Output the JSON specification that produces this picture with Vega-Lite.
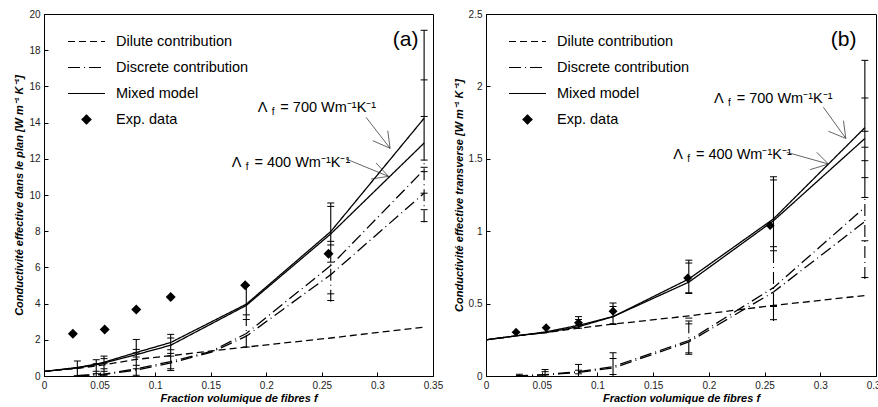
{
  "$schema": "https://vega.github.io/schema/vega-lite/v6.json",
  "background": "white",
  "padding": {"left": 13, "top": 8, "right": 0, "bottom": 0},
  "spacing": 8,
  "datasets": {
    "curvesA": [
      {"curve": "m700", "type": "Mixed model", "f": 0, "k": 0.25},
      {"curve": "m700", "type": "Mixed model", "f": 0.030, "k": 0.47},
      {"curve": "m700", "type": "Mixed model", "f": 0.047, "k": 0.66},
      {"curve": "m700", "type": "Mixed model", "f": 0.054, "k": 0.76},
      {"curve": "m700", "type": "Mixed model", "f": 0.083, "k": 1.3},
      {"curve": "m700", "type": "Mixed model", "f": 0.114, "k": 1.85},
      {"curve": "m700", "type": "Mixed model", "f": 0.182, "k": 3.97},
      {"curve": "m700", "type": "Mixed model", "f": 0.258, "k": 7.98},
      {"curve": "m700", "type": "Mixed model", "f": 0.342, "k": 14.24},
      {"curve": "m400", "type": "Mixed model", "f": 0, "k": 0.25},
      {"curve": "m400", "type": "Mixed model", "f": 0.030, "k": 0.45},
      {"curve": "m400", "type": "Mixed model", "f": 0.047, "k": 0.62},
      {"curve": "m400", "type": "Mixed model", "f": 0.054, "k": 0.72},
      {"curve": "m400", "type": "Mixed model", "f": 0.083, "k": 1.18},
      {"curve": "m400", "type": "Mixed model", "f": 0.114, "k": 1.7},
      {"curve": "m400", "type": "Mixed model", "f": 0.182, "k": 3.9},
      {"curve": "m400", "type": "Mixed model", "f": 0.258, "k": 7.85},
      {"curve": "m400", "type": "Mixed model", "f": 0.342, "k": 12.87},
      {"curve": "dil", "type": "Dilute contribution", "f": 0, "k": 0.25},
      {"curve": "dil", "type": "Dilute contribution", "f": 0.030, "k": 0.42},
      {"curve": "dil", "type": "Dilute contribution", "f": 0.054, "k": 0.62},
      {"curve": "dil", "type": "Dilute contribution", "f": 0.083, "k": 0.92},
      {"curve": "dil", "type": "Dilute contribution", "f": 0.114, "k": 1.12},
      {"curve": "dil", "type": "Dilute contribution", "f": 0.182, "k": 1.6},
      {"curve": "dil", "type": "Dilute contribution", "f": 0.258, "k": 2.1},
      {"curve": "dil", "type": "Dilute contribution", "f": 0.342, "k": 2.7},
      {"curve": "d700", "type": "Discrete contribution", "f": 0.030, "k": 0.02},
      {"curve": "d700", "type": "Discrete contribution", "f": 0.054, "k": 0.1},
      {"curve": "d700", "type": "Discrete contribution", "f": 0.083, "k": 0.4},
      {"curve": "d700", "type": "Discrete contribution", "f": 0.114, "k": 0.8},
      {"curve": "d700", "type": "Discrete contribution", "f": 0.15, "k": 1.35},
      {"curve": "d700", "type": "Discrete contribution", "f": 0.182, "k": 2.35},
      {"curve": "d700", "type": "Discrete contribution", "f": 0.258, "k": 6.1},
      {"curve": "d700", "type": "Discrete contribution", "f": 0.342, "k": 11.4},
      {"curve": "d400", "type": "Discrete contribution", "f": 0.030, "k": 0.02},
      {"curve": "d400", "type": "Discrete contribution", "f": 0.054, "k": 0.08},
      {"curve": "d400", "type": "Discrete contribution", "f": 0.083, "k": 0.33},
      {"curve": "d400", "type": "Discrete contribution", "f": 0.114, "k": 0.72},
      {"curve": "d400", "type": "Discrete contribution", "f": 0.15, "k": 1.3},
      {"curve": "d400", "type": "Discrete contribution", "f": 0.182, "k": 2.2},
      {"curve": "d400", "type": "Discrete contribution", "f": 0.258, "k": 5.6},
      {"curve": "d400", "type": "Discrete contribution", "f": 0.342, "k": 10.1}
    ],
    "expA": [
      {"f": 0.026, "k": 2.33}, {"f": 0.0546, "k": 2.57}, {"f": 0.083, "k": 3.68},
      {"f": 0.114, "k": 4.36}, {"f": 0.181, "k": 5.02}, {"f": 0.256, "k": 6.75}
    ],
    "barsA": [
      {"f": 0.030, "lo": 0, "hi": 0.83, "type": "Mixed model"},
      {"f": 0.047, "lo": 0, "hi": 0.9, "type": "Mixed model"},
      {"f": 0.054, "lo": 0, "hi": 1.1, "type": "Mixed model"},
      {"f": 0.083, "lo": 0, "hi": 2.02, "type": "Mixed model"},
      {"f": 0.114, "lo": 0.3, "hi": 2.3, "type": "Mixed model"},
      {"f": 0.182, "lo": 3.1, "hi": 5.0, "type": "Mixed model"},
      {"f": 0.182, "lo": 1.6, "hi": 3.1, "type": "Discrete contribution"},
      {"f": 0.258, "lo": 6.3, "hi": 9.56, "type": "Mixed model"},
      {"f": 0.258, "lo": 4.1, "hi": 6.3, "type": "Discrete contribution"},
      {"f": 0.342, "lo": 11.9, "hi": 19.1, "type": "Mixed model"},
      {"f": 0.342, "lo": 8.5, "hi": 11.9, "type": "Discrete contribution"}
    ],
    "capsA": [
      {"f": 0.030, "k": 0.83}, {"f": 0.030, "k": 0.44}, {"f": 0.030, "k": 0.02},
      {"f": 0.047, "k": 0.9}, {"f": 0.047, "k": 0.68}, {"f": 0.047, "k": 0.26}, {"f": 0.047, "k": 0.13},
      {"f": 0.054, "k": 1.1}, {"f": 0.054, "k": 0.96}, {"f": 0.054, "k": 0.68}, {"f": 0.054, "k": 0.4}, {"f": 0.054, "k": 0.26}, {"f": 0.054, "k": 0.04},
      {"f": 0.083, "k": 2.02}, {"f": 0.083, "k": 1.47}, {"f": 0.083, "k": 1.27}, {"f": 0.083, "k": 1.05}, {"f": 0.083, "k": 0.59}, {"f": 0.083, "k": 0.4}, {"f": 0.083, "k": 0.04},
      {"f": 0.114, "k": 2.3}, {"f": 0.114, "k": 2.1}, {"f": 0.114, "k": 1.45}, {"f": 0.114, "k": 1.25}, {"f": 0.114, "k": 1.1}, {"f": 0.114, "k": 0.4}, {"f": 0.114, "k": 0.3},
      {"f": 0.182, "k": 5.0}, {"f": 0.182, "k": 3.38}, {"f": 0.182, "k": 3.12}, {"f": 0.182, "k": 1.6},
      {"f": 0.258, "k": 9.56}, {"f": 0.258, "k": 9.37}, {"f": 0.258, "k": 7.44}, {"f": 0.258, "k": 7.24}, {"f": 0.258, "k": 6.29}, {"f": 0.258, "k": 4.54}, {"f": 0.258, "k": 4.17},
      {"f": 0.342, "k": 19.1}, {"f": 0.342, "k": 16.36}, {"f": 0.342, "k": 14.34}, {"f": 0.342, "k": 11.93}, {"f": 0.342, "k": 11.53}, {"f": 0.342, "k": 11.29}, {"f": 0.342, "k": 10.1}, {"f": 0.342, "k": 9.19}, {"f": 0.342, "k": 8.53}
    ],
    "notesA": [
      {"f": 0.1923, "k": 14.57, "txt": "= 700 Wm⁻¹K⁻¹"},
      {"f": 0.169, "k": 11.56, "txt": "= 400 Wm⁻¹K⁻¹"}
    ],
    "arrowsA": [
      {"f": 0.2898, "k": 14.29, "f2": 0.3114, "k2": 12.58},
      {"f": 0.2958, "k": 13.0, "f2": 0.3114, "k2": 12.58},
      {"f": 0.3093, "k": 13.55, "f2": 0.3114, "k2": 12.58},
      {"f": 0.2718, "k": 11.99, "f2": 0.3099, "k2": 11.03},
      {"f": 0.2943, "k": 10.88, "f2": 0.3099, "k2": 11.03},
      {"f": 0.2988, "k": 11.77, "f2": 0.3099, "k2": 11.03}
    ],
    "curvesB": [
      {"curve": "m700", "type": "Mixed model", "f": 0, "k": 0.25},
      {"curve": "m700", "type": "Mixed model", "f": 0.030, "k": 0.28},
      {"curve": "m700", "type": "Mixed model", "f": 0.054, "k": 0.305},
      {"curve": "m700", "type": "Mixed model", "f": 0.083, "k": 0.35},
      {"curve": "m700", "type": "Mixed model", "f": 0.114, "k": 0.41},
      {"curve": "m700", "type": "Mixed model", "f": 0.182, "k": 0.67},
      {"curve": "m700", "type": "Mixed model", "f": 0.258, "k": 1.085},
      {"curve": "m700", "type": "Mixed model", "f": 0.34, "k": 1.715},
      {"curve": "m400", "type": "Mixed model", "f": 0, "k": 0.25},
      {"curve": "m400", "type": "Mixed model", "f": 0.030, "k": 0.28},
      {"curve": "m400", "type": "Mixed model", "f": 0.054, "k": 0.30},
      {"curve": "m400", "type": "Mixed model", "f": 0.083, "k": 0.34},
      {"curve": "m400", "type": "Mixed model", "f": 0.114, "k": 0.41},
      {"curve": "m400", "type": "Mixed model", "f": 0.182, "k": 0.648},
      {"curve": "m400", "type": "Mixed model", "f": 0.258, "k": 1.072},
      {"curve": "m400", "type": "Mixed model", "f": 0.34, "k": 1.64},
      {"curve": "dil", "type": "Dilute contribution", "f": 0, "k": 0.25},
      {"curve": "dil", "type": "Dilute contribution", "f": 0.030, "k": 0.28},
      {"curve": "dil", "type": "Dilute contribution", "f": 0.054, "k": 0.30},
      {"curve": "dil", "type": "Dilute contribution", "f": 0.083, "k": 0.33},
      {"curve": "dil", "type": "Dilute contribution", "f": 0.114, "k": 0.358},
      {"curve": "dil", "type": "Dilute contribution", "f": 0.182, "k": 0.415},
      {"curve": "dil", "type": "Dilute contribution", "f": 0.258, "k": 0.487},
      {"curve": "dil", "type": "Dilute contribution", "f": 0.34, "k": 0.556},
      {"curve": "d700", "type": "Discrete contribution", "f": 0.027, "k": 0.0},
      {"curve": "d700", "type": "Discrete contribution", "f": 0.054, "k": 0.01},
      {"curve": "d700", "type": "Discrete contribution", "f": 0.083, "k": 0.03},
      {"curve": "d700", "type": "Discrete contribution", "f": 0.114, "k": 0.065},
      {"curve": "d700", "type": "Discrete contribution", "f": 0.15, "k": 0.16},
      {"curve": "d700", "type": "Discrete contribution", "f": 0.182, "k": 0.245},
      {"curve": "d700", "type": "Discrete contribution", "f": 0.258, "k": 0.61},
      {"curve": "d700", "type": "Discrete contribution", "f": 0.34, "k": 1.165},
      {"curve": "d400", "type": "Discrete contribution", "f": 0.027, "k": 0.0},
      {"curve": "d400", "type": "Discrete contribution", "f": 0.054, "k": 0.008},
      {"curve": "d400", "type": "Discrete contribution", "f": 0.083, "k": 0.025},
      {"curve": "d400", "type": "Discrete contribution", "f": 0.114, "k": 0.055},
      {"curve": "d400", "type": "Discrete contribution", "f": 0.15, "k": 0.15},
      {"curve": "d400", "type": "Discrete contribution", "f": 0.182, "k": 0.235},
      {"curve": "d400", "type": "Discrete contribution", "f": 0.258, "k": 0.58},
      {"curve": "d400", "type": "Discrete contribution", "f": 0.34, "k": 1.067}
    ],
    "expB": [
      {"f": 0.027, "k": 0.303}, {"f": 0.054, "k": 0.333}, {"f": 0.083, "k": 0.368},
      {"f": 0.114, "k": 0.447}, {"f": 0.181, "k": 0.677}, {"f": 0.255, "k": 1.04}
    ],
    "barsB": [
      {"f": 0.030, "lo": 0, "hi": 0.012, "type": "Mixed model"},
      {"f": 0.053, "lo": 0, "hi": 0.045, "type": "Mixed model"},
      {"f": 0.083, "lo": 0, "hi": 0.08, "type": "Mixed model"},
      {"f": 0.083, "lo": 0.33, "hi": 0.41, "type": "Mixed model"},
      {"f": 0.114, "lo": 0, "hi": 0.16, "type": "Mixed model"},
      {"f": 0.114, "lo": 0.355, "hi": 0.505, "type": "Mixed model"},
      {"f": 0.182, "lo": 0.15, "hi": 0.40, "type": "Discrete contribution"},
      {"f": 0.182, "lo": 0.57, "hi": 0.80, "type": "Mixed model"},
      {"f": 0.258, "lo": 0.865, "hi": 1.376, "type": "Mixed model"},
      {"f": 0.258, "lo": 0.49, "hi": 0.865, "type": "Discrete contribution"},
      {"f": 0.258, "lo": 0.38, "hi": 0.49, "type": "Mixed model"},
      {"f": 0.34, "lo": 1.23, "hi": 2.18, "type": "Mixed model"},
      {"f": 0.34, "lo": 0.67, "hi": 1.23, "type": "Discrete contribution"}
    ],
    "capsB": [
      {"f": 0.030, "k": 0.012}, {"f": 0.030, "k": 0.0},
      {"f": 0.053, "k": 0.045}, {"f": 0.053, "k": 0.03}, {"f": 0.053, "k": 0.01},
      {"f": 0.083, "k": 0.08}, {"f": 0.083, "k": 0.04}, {"f": 0.083, "k": 0.015}, {"f": 0.083, "k": 0.41}, {"f": 0.083, "k": 0.39}, {"f": 0.083, "k": 0.35}, {"f": 0.083, "k": 0.33},
      {"f": 0.114, "k": 0.16}, {"f": 0.114, "k": 0.12}, {"f": 0.114, "k": 0.01}, {"f": 0.114, "k": 0.505}, {"f": 0.114, "k": 0.48}, {"f": 0.114, "k": 0.36}, {"f": 0.114, "k": 0.355},
      {"f": 0.182, "k": 0.40}, {"f": 0.182, "k": 0.38}, {"f": 0.182, "k": 0.36}, {"f": 0.182, "k": 0.16}, {"f": 0.182, "k": 0.15}, {"f": 0.182, "k": 0.80}, {"f": 0.182, "k": 0.78}, {"f": 0.182, "k": 0.575}, {"f": 0.182, "k": 0.57},
      {"f": 0.258, "k": 1.376}, {"f": 0.258, "k": 1.354}, {"f": 0.258, "k": 0.893}, {"f": 0.258, "k": 0.865}, {"f": 0.258, "k": 0.486}, {"f": 0.258, "k": 0.48}, {"f": 0.258, "k": 0.389},
      {"f": 0.34, "k": 2.18}, {"f": 0.34, "k": 1.92}, {"f": 0.34, "k": 1.69}, {"f": 0.34, "k": 1.58}, {"f": 0.34, "k": 1.487}, {"f": 0.34, "k": 1.37}, {"f": 0.34, "k": 1.233}, {"f": 0.34, "k": 0.934}, {"f": 0.34, "k": 0.68}
    ],
    "notesB": [
      {"f": 0.2047, "k": 1.885, "txt": "= 700 Wm⁻¹K⁻¹"},
      {"f": 0.1681, "k": 1.499, "txt": "= 400 Wm⁻¹K⁻¹"}
    ],
    "arrowsB": [
      {"f": 0.3028, "k": 1.856, "f2": 0.3229, "k2": 1.641},
      {"f": 0.3073, "k": 1.690, "f2": 0.3229, "k2": 1.641},
      {"f": 0.3208, "k": 1.763, "f2": 0.3229, "k2": 1.641},
      {"f": 0.2699, "k": 1.545, "f2": 0.3073, "k2": 1.464},
      {"f": 0.2908, "k": 1.425, "f2": 0.3073, "k2": 1.464},
      {"f": 0.2968, "k": 1.545, "f2": 0.3073, "k2": 1.464}
    ]
  },
  "hconcat": [
    {
      "width": 389,
      "height": 362,
      "layer": [
        {
          "data": {"name": "curvesA"},
          "mark": {"type": "line", "color": "black", "strokeWidth": 1.3},
          "encoding": {
            "x": {"field": "f", "type": "quantitative", "scale": {"domain": [0, 0.35], "nice": false},
                  "axis": {"title": "Fraction volumique de fibres f", "values": [0, 0.05, 0.1, 0.15, 0.2, 0.25, 0.3, 0.35], "format": "~g", "tickCount": 20}},
            "y": {"field": "k", "type": "quantitative", "scale": {"domain": [0, 20], "nice": false},
                  "axis": {"title": "Conductivité effective dans le plan [W m⁻¹ K⁻¹]", "values": [0, 2, 4, 6, 8, 10, 12, 14, 16, 18, 20], "tickCount": 20}},
            "detail": {"field": "curve"},
            "strokeDash": {"field": "type", "type": "nominal",
              "scale": {"domain": ["Dilute contribution", "Discrete contribution", "Mixed model", "Exp. data"], "range": [[7, 4], [12, 4, 1, 4], [1, 0], [1, 0]]},
              "legend": {"title": null, "orient": "none", "legendX": 23, "legendY": 8, "padding": 0,
                "symbolType": "stroke", "symbolSize": 1369, "symbolStrokeWidth": 1.2, "symbolStrokeColor": "black",
                "labelFont": "Liberation Sans", "labelFontSize": 14.5, "labelColor": "black", "labelOffset": 10, "rowPadding": -2,
                "encode": {"symbols": {"update": {
                  "shape": {"signal": "datum.label === 'Exp. data' ? 'diamond' : 'stroke'"},
                  "size": {"signal": "datum.label === 'Exp. data' ? 80 : 1369"},
                  "stroke": {"value": "black"},
                  "strokeWidth": {"value": 1.2},
                  "opacity": {"value": 1},
                  "fill": {"signal": "datum.label === 'Exp. data' ? 'black' : 'transparent'"}}}}}
            }
          }
        },
        {
          "data": {"name": "barsA"},
          "mark": {"type": "rule", "color": "black", "strokeWidth": 1.1},
          "encoding": {
            "x": {"field": "f", "type": "quantitative"},
            "y": {"field": "lo", "type": "quantitative"},
            "y2": {"field": "hi"},
            "strokeDash": {"field": "type", "type": "nominal"}
          }
        },
        {
          "data": {"name": "capsA"},
          "mark": {"type": "tick", "orient": "horizontal", "size": 7, "thickness": 1, "color": "black", "opacity": 1},
          "encoding": {
            "x": {"field": "f", "type": "quantitative"},
            "y": {"field": "k", "type": "quantitative"}
          }
        },
        {
          "data": {"name": "expA"},
          "mark": {"type": "point", "shape": "diamond", "filled": true, "size": 100, "color": "black", "opacity": 1},
          "encoding": {
            "x": {"field": "f", "type": "quantitative"},
            "y": {"field": "k", "type": "quantitative"}
          }
        },
        {
          "data": {"name": "arrowsA"},
          "mark": {"type": "rule", "color": "#222", "strokeWidth": 0.7},
          "encoding": {
            "x": {"field": "f", "type": "quantitative"},
            "y": {"field": "k", "type": "quantitative"},
            "x2": {"field": "f2"},
            "y2": {"field": "k2"}
          }
        },
        {
          "data": {"name": "notesA"},
          "mark": {"type": "text", "align": "left", "baseline": "alphabetic", "fontSize": 14.5, "font": "Liberation Sans", "color": "black"},
          "encoding": {
            "x": {"field": "f", "type": "quantitative"},
            "y": {"field": "k", "type": "quantitative"},
            "text": {"value": "Λ"}
          }
        },
        {
          "data": {"name": "notesA"},
          "mark": {"type": "text", "align": "left", "baseline": "alphabetic", "dx": 14, "dy": 3, "fontSize": 10, "font": "Liberation Sans", "color": "black"},
          "encoding": {
            "x": {"field": "f", "type": "quantitative"},
            "y": {"field": "k", "type": "quantitative"},
            "text": {"value": "f"}
          }
        },
        {
          "data": {"name": "notesA"},
          "mark": {"type": "text", "align": "left", "baseline": "alphabetic", "dx": 22.6, "fontSize": 14.5, "font": "Liberation Sans", "color": "black"},
          "encoding": {
            "x": {"field": "f", "type": "quantitative"},
            "y": {"field": "k", "type": "quantitative"},
            "text": {"field": "txt"}
          }
        },
        {
          "data": {"values": [{}]},
          "mark": {"type": "text", "align": "left", "baseline": "alphabetic", "fontSize": 21, "font": "Liberation Sans", "color": "black"},
          "encoding": {
            "x": {"datum": 0.3138, "type": "quantitative"},
            "y": {"datum": 18.25, "type": "quantitative"},
            "text": {"value": "(a)"}
          }
        }
      ]
    },
    {
      "width": 390,
      "height": 362,
      "layer": [
        {
          "data": {"name": "curvesB"},
          "mark": {"type": "line", "color": "black", "strokeWidth": 1.3},
          "encoding": {
            "x": {"field": "f", "type": "quantitative", "scale": {"domain": [0, 0.35], "nice": false},
                  "axis": {"title": "Fraction volumique de fibres f", "values": [0, 0.05, 0.1, 0.15, 0.2, 0.25, 0.3, 0.35], "format": "~g", "tickCount": 20}},
            "y": {"field": "k", "type": "quantitative", "scale": {"domain": [0, 2.5], "nice": false},
                  "axis": {"title": "Conductivité effective transverse [W m⁻¹ K⁻¹]", "values": [0, 0.5, 1, 1.5, 2, 2.5], "format": "~g", "tickCount": 20}},
            "detail": {"field": "curve"},
            "strokeDash": {"field": "type", "type": "nominal",
              "scale": {"domain": ["Dilute contribution", "Discrete contribution", "Mixed model", "Exp. data"], "range": [[7, 4], [12, 4, 1, 4], [1, 0], [1, 0]]},
              "legend": {"title": null, "orient": "none", "legendX": 22, "legendY": 8, "padding": 0,
                "symbolType": "stroke", "symbolSize": 1369, "symbolStrokeWidth": 1.2, "symbolStrokeColor": "black",
                "labelFont": "Liberation Sans", "labelFontSize": 14.5, "labelColor": "black", "labelOffset": 10, "rowPadding": -2,
                "encode": {"symbols": {"update": {
                  "shape": {"signal": "datum.label === 'Exp. data' ? 'diamond' : 'stroke'"},
                  "size": {"signal": "datum.label === 'Exp. data' ? 80 : 1369"},
                  "stroke": {"value": "black"},
                  "strokeWidth": {"value": 1.2},
                  "opacity": {"value": 1},
                  "fill": {"signal": "datum.label === 'Exp. data' ? 'black' : 'transparent'"}}}}}
            }
          }
        },
        {
          "data": {"name": "barsB"},
          "mark": {"type": "rule", "color": "black", "strokeWidth": 1.1},
          "encoding": {
            "x": {"field": "f", "type": "quantitative"},
            "y": {"field": "lo", "type": "quantitative"},
            "y2": {"field": "hi"},
            "strokeDash": {"field": "type", "type": "nominal"}
          }
        },
        {
          "data": {"name": "capsB"},
          "mark": {"type": "tick", "orient": "horizontal", "size": 7, "thickness": 1, "color": "black", "opacity": 1},
          "encoding": {
            "x": {"field": "f", "type": "quantitative"},
            "y": {"field": "k", "type": "quantitative"}
          }
        },
        {
          "data": {"name": "expB"},
          "mark": {"type": "point", "shape": "diamond", "filled": true, "size": 80, "color": "black", "opacity": 1},
          "encoding": {
            "x": {"field": "f", "type": "quantitative"},
            "y": {"field": "k", "type": "quantitative"}
          }
        },
        {
          "data": {"name": "arrowsB"},
          "mark": {"type": "rule", "color": "#222", "strokeWidth": 0.7},
          "encoding": {
            "x": {"field": "f", "type": "quantitative"},
            "y": {"field": "k", "type": "quantitative"},
            "x2": {"field": "f2"},
            "y2": {"field": "k2"}
          }
        },
        {
          "data": {"name": "notesB"},
          "mark": {"type": "text", "align": "left", "baseline": "alphabetic", "fontSize": 14.5, "font": "Liberation Sans", "color": "black"},
          "encoding": {
            "x": {"field": "f", "type": "quantitative"},
            "y": {"field": "k", "type": "quantitative"},
            "text": {"value": "Λ"}
          }
        },
        {
          "data": {"name": "notesB"},
          "mark": {"type": "text", "align": "left", "baseline": "alphabetic", "dx": 14, "dy": 3, "fontSize": 10, "font": "Liberation Sans", "color": "black"},
          "encoding": {
            "x": {"field": "f", "type": "quantitative"},
            "y": {"field": "k", "type": "quantitative"},
            "text": {"value": "f"}
          }
        },
        {
          "data": {"name": "notesB"},
          "mark": {"type": "text", "align": "left", "baseline": "alphabetic", "dx": 22.6, "fontSize": 14.5, "font": "Liberation Sans", "color": "black"},
          "encoding": {
            "x": {"field": "f", "type": "quantitative"},
            "y": {"field": "k", "type": "quantitative"},
            "text": {"field": "txt"}
          }
        },
        {
          "data": {"values": [{}]},
          "mark": {"type": "text", "align": "left", "baseline": "alphabetic", "fontSize": 21, "font": "Liberation Sans", "color": "black"},
          "encoding": {
            "x": {"datum": 0.3094, "type": "quantitative"},
            "y": {"datum": 2.281, "type": "quantitative"},
            "text": {"value": "(b)"}
          }
        }
      ]
    }
  ],
  "resolve": {"scale": {"strokeDash": "independent"}, "legend": {"strokeDash": "independent"}},
  "config": {
    "view": {"stroke": "black", "strokeWidth": 1},
    "axis": {
      "grid": false, "domainColor": "black", "domainWidth": 1, "tickColor": "black", "tickSize": -4,
      "labelFont": "Liberation Sans", "labelFontSize": 10, "labelColor": "#222", "labelPadding": 8, "labelFlush": false, "labelOverlap": false,
      "titleFont": "Liberation Sans", "titleFontSize": 11, "titleFontWeight": "bold", "titleFontStyle": "italic", "titleColor": "black"
    },
    "axisX": {"titlePadding": 2},
    "axisY": {"titlePadding": 4}
  }
}
